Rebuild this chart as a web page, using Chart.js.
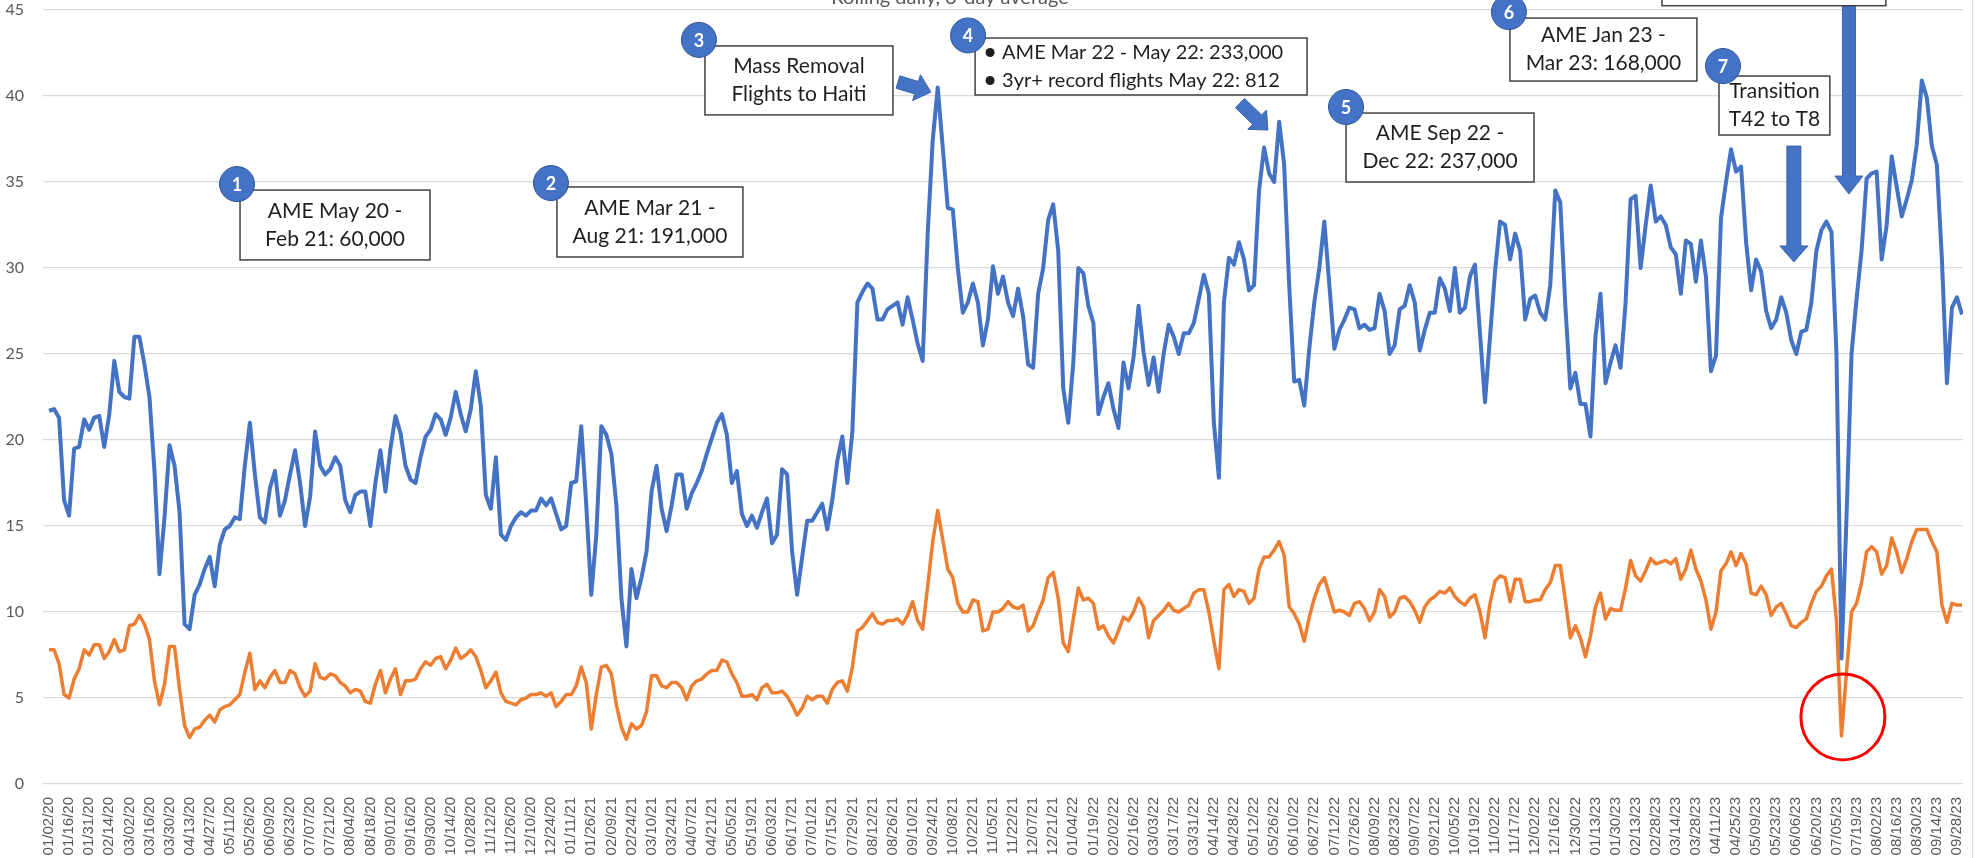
<!DOCTYPE html>
<html>
<head>
<meta charset="utf-8">
<style>
  body { margin: 0; background: #fff; }
  canvas { display: block; }
</style>
</head>
<body>
<canvas id="flights" width="1986" height="858"></canvas>

<script src="https://cdn.jsdelivr.net/npm/chart.js"></script>

<script>
  // one tick label every 14 data days, data at quarter-tick steps
  const tickLabels = [
    '01/02/20','01/16/20','01/31/20','02/14/20','03/02/20','03/16/20','03/30/20','04/13/20','04/27/20','05/11/20',
    '05/26/20','06/09/20','06/23/20','07/07/20','07/21/20','08/04/20','08/18/20','09/01/20','09/16/20','09/30/20',
    '10/14/20','10/28/20','11/12/20','11/26/20','12/10/20','12/24/20','01/11/21','01/26/21','02/09/21','02/24/21',
    '03/10/21','03/24/21','04/07/21','04/21/21','05/05/21','05/19/21','06/03/21','06/17/21','07/01/21','07/15/21',
    '07/29/21','08/12/21','08/26/21','09/10/21','09/24/21','10/08/21','10/22/21','11/05/21','11/22/21','12/07/21',
    '12/21/21','01/04/22','01/19/22','02/02/22','02/16/22','03/03/22','03/17/22','03/31/22','04/14/22','04/28/22',
    '05/12/22','05/26/22','06/10/22','06/27/22','07/12/22','07/26/22','08/09/22','08/23/22','09/07/22','09/21/22',
    '10/05/22','10/19/22','11/02/22','11/17/22','12/02/22','12/16/22','12/30/22','01/13/23','01/30/23','02/13/23',
    '02/28/23','03/14/23','03/28/23','04/11/23','04/25/23','05/09/23','05/23/23','06/06/23','06/20/23','07/05/23',
    '07/19/23','08/02/23','08/16/23','08/30/23','09/14/23','09/28/23'
  ];
  const step = 0.25;

  const blueValues = [
    21.7,21.8,21.3,16.5, 15.6,19.5,19.6,21.2, 20.6,21.3,21.4,19.6, 21.5,24.6,22.8,22.5, 22.4,26,26,24.4,
    22.5,18.2,12.2,15.5, 19.7,18.5,15.8,9.3, 9,11,11.6,12.5, 13.2,11.5,13.9,14.8, 15,15.5,15.4,18.5,
    21,18,15.5,15.2, 17.2,18.2,15.6,16.5, 18,19.4,17.5,15, 16.7,20.5,18.5,18, 18.3,19,18.5,16.5,
    15.8,16.8,17,17, 15,17.5,19.4,17, 19.5,21.4,20.4,18.5, 17.7,17.5,19,20.2, 20.6,21.5,21.2,20.3,
    21.3,22.8,21.5,20.5, 21.8,24,22,16.8, 16,19,14.5,14.2, 15,15.5,15.8,15.6, 15.9,15.9,16.6,16.2,
    16.6,15.7,14.8,15, 17.5,17.6,20.8,16.2, 11,14.5,20.8,20.3, 19.2,16.2,10.8,8, 12.5,10.8,12,13.5,
    17,18.5,16,14.7, 16.2,18,18,16, 16.9,17.5,18.2,19.2, 20.1,21,21.5,20.3, 17.5,18.2,15.7,15,
    15.6,14.9,15.8,16.6, 14,14.5,18.3,18, 13.5,11,13.2,15.3, 15.3,15.8,16.3,14.8, 16.5,18.8,20.2,17.5,
    20.5,28,28.6,29.1, 28.8,27,27,27.6, 27.8,28,26.7,28.3, 27,25.6,24.6,32, 37.4,40.5,37,33.5,
    33.4,30,27.4,28, 29.1,28,25.5,27, 30.1,28.5,29.5,28, 27.2,28.8,27.2,24.4, 24.2,28.5,30,32.8,
    33.7,31,23,21, 24.5,30,29.7,27.8, 26.8,21.5,22.5,23.3, 21.8,20.7,24.5,23, 24.8,27.8,25.1,23.2,
    24.8,22.8,25,26.7, 26,25,26.2,26.2, 26.8,28.2,29.6,28.5, 21,17.8,28,30.6, 30.2,31.5,30.5,28.7,
    29,34.5,37,35.5, 35,38.5,36,29, 23.4,23.5,22,25.3, 28,30,32.7,29, 25.3,26.4,27,27.7,
    27.6,26.5,26.7,26.4, 26.5,28.5,27.5,25, 25.5,27.6,27.8,29, 28,25.2,26.4,27.4, 27.4,29.4,28.8,27.5,
    30,27.4,27.7,29.5, 30.2,26.2,22.2,26, 29.8,32.7,32.5,30.5, 32,31,27,28.2, 28.4,27.4,27,29,
    34.5,33.8,27.8,23, 23.9,22.1,22.1,20.2, 26,28.5,23.3,24.5, 25.5,24.2,28,34, 34.2,30,32.5,34.8,
    32.7,33,32.5,31.2, 30.8,28.5,31.6,31.4, 29.2,31.6,29.5,24, 24.9,32.9,35,36.9, 35.6,35.9,31.5,28.7,
    30.5,29.8,27.5,26.5, 27,28.3,27.4,25.8, 25,26.3,26.4,28, 31,32.2,32.7,32.1, 25,7.3,15.5,25,
    28.2,31,35.2,35.5, 35.6,30.5,32.5,36.5, 34.7,33,34,35.1, 37.2,40.9,39.9,37.1, 36,30.5,23.3,27.7,
    28.3,27.3
  ];

  const orangeValues = [
    7.8,7.8,7.0,5.2, 5,6.1,6.7,7.8, 7.5,8.1,8.1,7.3, 7.7,8.4,7.7,7.8, 9.2,9.3,9.8,9.3,
    8.4,6,4.6,5.8, 8,8,5.5,3.4, 2.7,3.2,3.3,3.7, 4,3.6,4.3,4.5, 4.6,4.9,5.2,6.5,
    7.6,5.5,6,5.6, 6.2,6.6,5.9,5.9, 6.6,6.4,5.6,5.1, 5.4,7,6.2,6.1, 6.4,6.3,5.9,5.7,
    5.3,5.5,5.4,4.8, 4.7,5.8,6.6,5.3, 6.1,6.7,5.2,6, 6,6.1,6.7,7.1, 6.9,7.3,7.4,6.7,
    7.2,7.9,7.3,7.5, 7.8,7.4,6.6,5.6, 6,6.5,5.3,4.8, 4.7,4.6,4.9,5, 5.2,5.2,5.3,5.1,
    5.3,4.5,4.8,5.2, 5.2,5.7,6.8,5.9, 3.2,5.2,6.8,6.9, 6.4,4.6,3.3,2.6, 3.5,3.2,3.4,4.2,
    6.3,6.3,5.7,5.6, 5.9,5.9,5.6,4.9, 5.7,6,6.1,6.4, 6.6,6.6,7.2,7.1, 6.4,5.9,5.1,5.1,
    5.2,4.9,5.6,5.8, 5.3,5.3,5.4,5.1, 4.6,4,4.4,5.1, 4.9,5.1,5.1,4.7, 5.5,5.9,6,5.4,
    6.8,8.9,9.1,9.5, 9.9,9.4,9.3,9.5, 9.5,9.6,9.3,9.8, 10.6,9.5,9,11.5, 14.1,15.9,14.2,12.5,
    12,10.5,10,10, 10.7,10.6,8.9,9, 10,10,10.2,10.6, 10.3,10.2,10.4,8.9, 9.2,10,10.7,12,
    12.3,10.8,8.2,7.7, 9.6,11.4,10.7,10.8, 10.5,9,9.2,8.6, 8.2,8.9,9.7,9.5, 10,10.8,10.3,8.5,
    9.5,9.8,10.1,10.5, 10.1,10,10.2,10.4, 11.1,11.3,11.3,10, 8.3,6.7,11.3,11.6, 10.9,11.3,11.2,10.5,
    10.8,12.5,13.2,13.2, 13.6,14.1,13.3,10.3, 9.9,9.3,8.3,9.7, 10.8,11.6,12,11, 10,10.1,10,9.8,
    10.5,10.6,10.2,9.5, 10,11.3,10.9,9.7, 10,10.8,10.9,10.6, 10.1,9.4,10.3,10.7, 10.9,11.2,11.1,11.4,
    10.9,10.6,10.4,10.8, 11,10,8.5,10.5, 11.8,12.1,12,10.6, 11.9,11.9,10.6,10.6, 10.7,10.7,11.3,11.7,
    12.7,12.7,10.7,8.5, 9.2,8.5,7.4,8.6, 10.3,11.1,9.6,10.2, 10.1,10.1,11.4,13, 12.1,11.8,12.4,13.1,
    12.8,12.9,13,12.8, 13.1,11.9,12.5,13.6, 12.5,11.8,10.7,9, 10,12.4,12.8,13.5, 12.7,13.4,12.8,11.1,
    11,11.5,11,9.8, 10.3,10.5,9.9,9.2, 9.1,9.4,9.6,10.5, 11.2,11.5,12.1,12.5, 9.5,2.8,6.5,10,
    10.5,11.7,13.5,13.8, 13.5,12.2,12.7,14.3, 13.5,12.3,13.1,14.1, 14.8,14.8,14.8,14.1, 13.5,10.4,9.4,10.5,
    10.4,10.4
  ];

  // call-out boxes, in axis units (x = tick index, y = value)
  const callouts = [
    { n: '1', x1: 9.51, x2: 18.97, y1: 34.53, y2: 30.47, cx: 9.36, cy: 34.88, lines: ['AME May 20 -', 'Feb 21: 60,000'] },
    { n: '2', x1: 25.29, x2: 34.55, y1: 34.71, y2: 30.64, cx: 24.99, cy: 34.94, lines: ['AME Mar 21 -', 'Aug 21: 191,000'] },
    { n: '3', x1: 32.66, x2: 42.02, y1: 42.91, y2: 38.9, cx: 32.36, cy: 43.26, lines: ['Mass Removal', 'Flights to Haiti'] },
    { n: '4', x1: 46.11, x2: 62.64, y1: 43.37, y2: 40.06, cx: 45.76, cy: 43.52, bullets: true,
      lines: ['AME Mar 22 - May 22: 233,000', '3yr+ record flights May 22: 812'] },
    { n: '5', x1: 64.58, x2: 73.94, y1: 39.01, y2: 35.0, cx: 64.58, cy: 39.36, lines: ['AME Sep 22 -', 'Dec 22: 237,000'] },
    { n: '6', x1: 72.74, x2: 82.05, y1: 44.53, y2: 40.87, cx: 72.69, cy: 44.88, lines: ['AME Jan 23 -', 'Mar 23: 168,000'] },
    { n: '7', x1: 83.15, x2: 88.67, y1: 41.16, y2: 37.73, cx: 83.35, cy: 41.74, lines: ['Transition', 'T42 to T8'] },
    { n: '', x1: 80.31, x2: 91.46, y1: 48, y2: 45.25, lines: [] }
  ];
  const arrows = [
    { x0: 42.27, y0: 40.81, x1: 43.91, y1: 40.23, shaft: 13, head: 27, headLen: 15 },
    { x0: 59.30, y0: 39.59, x1: 60.69, y1: 38.02, shaft: 13, head: 27, headLen: 15 },
    { x0: 86.88, y0: 37.09, x1: 86.88, y1: 30.35, shaft: 14, head: 28, headLen: 16 },
    { x0: 89.62, y0: 45.6, x1: 89.62, y1: 34.30, shaft: 13, head: 28, headLen: 18 }
  ];
  const dipMark = { x: 89.32, y: 3.9, rx: 42, ry: 43 };

  const BLUE = '#4472C4';
  const ORANGE = '#ED7D31';

  function blockArrow(ctx, x0, y0, x1, y1, shaft, head, headLen) {
    const dx = x1 - x0, dy = y1 - y0, len = Math.hypot(dx, dy);
    const ux = dx / len, uy = dy / len, nx = -uy, ny = ux;
    const bx = x1 - ux * headLen, by = y1 - uy * headLen;
    const s = shaft / 2, h = head / 2;
    ctx.beginPath();
    ctx.moveTo(x0 + nx * s, y0 + ny * s);
    ctx.lineTo(bx + nx * s, by + ny * s);
    ctx.lineTo(bx + nx * h, by + ny * h);
    ctx.lineTo(x1, y1);
    ctx.lineTo(bx - nx * h, by - ny * h);
    ctx.lineTo(bx - nx * s, by - ny * s);
    ctx.lineTo(x0 - nx * s, y0 - ny * s);
    ctx.closePath();
    ctx.fillStyle = BLUE;
    ctx.fill();
    ctx.strokeStyle = '#3A62AD';
    ctx.lineWidth = 1;
    ctx.stroke();
  }

  const annotations = {
    id: 'annotations',
    afterDraw(chart) {
      const { ctx, scales: { x, y } } = chart;
      const X = v => x.getPixelForValue(v);
      const Y = v => y.getPixelForValue(v);
      ctx.save();

      // chart title, mostly cut off by the top edge
      ctx.fillStyle = '#595959';
      ctx.font = '20px Lato';
      ctx.textAlign = 'center';
      ctx.textBaseline = 'alphabetic';
      ctx.fillText('Rolling daily, 3-day average', 950, 4);

      // right edge of the chart frame
      ctx.strokeStyle = '#d9d9d9';
      ctx.lineWidth = 1;
      ctx.beginPath();
      ctx.moveTo(1972.5, 0);
      ctx.lineTo(1972.5, 858);
      ctx.stroke();

      arrows.forEach(a => blockArrow(ctx, X(a.x0), Y(a.y0), X(a.x1), Y(a.y1), a.shaft, a.head, a.headLen));

      callouts.forEach(c => {
        const l = X(c.x1), r = X(c.x2), t = Y(c.y1), b = Y(c.y2);
        ctx.fillStyle = '#fff';
        ctx.fillRect(l, t, r - l, b - t);
        ctx.strokeStyle = '#404040';
        ctx.lineWidth = 1.5;
        ctx.strokeRect(l, t, r - l, b - t);

        ctx.fillStyle = '#1f1f1f';
        ctx.font = c.bullets ? '20px Lato' : '21px Lato';
        ctx.textBaseline = 'middle';
        const mid = (t + b) / 2, lh = 28;
        c.lines.forEach((txt, i) => {
          const ty = mid + (i - (c.lines.length - 1) / 2) * lh;
          if (c.bullets) {
            ctx.textAlign = 'left';
            ctx.beginPath();
            ctx.arc(l + 15, ty, 4.5, 0, Math.PI * 2);
            ctx.fill();
            ctx.fillText(txt, l + 27, ty);
          } else {
            ctx.textAlign = 'center';
            ctx.fillText(txt, (l + r) / 2, ty);
          }
        });

        if (c.n) {
          const cx = X(c.cx), cy = Y(c.cy);
          ctx.beginPath();
          ctx.arc(cx, cy, 17.5, 0, Math.PI * 2);
          ctx.fillStyle = BLUE;
          ctx.fill();
          ctx.strokeStyle = '#2F5597';
          ctx.lineWidth = 1;
          ctx.stroke();
          ctx.fillStyle = '#fff';
          ctx.font = 'bold 18px Lato';
          ctx.textAlign = 'center';
          ctx.fillText(c.n, cx, cy + 1);
        }
      });

      // red ring round the July 2023 dip
      ctx.strokeStyle = '#FF0000';
      ctx.lineWidth = 3;
      ctx.beginPath();
      ctx.ellipse(X(dipMark.x), Y(dipMark.y), dipMark.rx, dipMark.ry, 0, 0, Math.PI * 2);
      ctx.stroke();

      ctx.restore();
    }
  };

  function toPoints(values) {
    return values.map((v, i) => ({ x: i * step, y: v }));
  }

  new Chart(document.getElementById('flights'), {
    type: 'line',
    data: {
      datasets: [
        {
          label: 'Blue series',
          data: toPoints(blueValues),
          borderColor: BLUE,
          borderWidth: 4,
          pointRadius: 0,
          tension: 0,
          borderJoinStyle: 'round'
        },
        {
          label: 'Orange series',
          data: toPoints(orangeValues),
          borderColor: ORANGE,
          borderWidth: 3.5,
          pointRadius: 0,
          tension: 0,
          borderJoinStyle: 'round'
        }
      ]
    },
    options: {
      responsive: false,
      animation: false,
      layout: { padding: { top: 10, right: 23, bottom: 0, left: 0 } },
      plugins: {
        legend: { display: false },
        tooltip: { enabled: false }
      },
      scales: {
        x: {
          type: 'linear',
          min: -0.3,
          max: 95.3,
          grid: { display: false },
          border: { display: false },
          afterFit: s => { s.height = 74; },
          ticks: {
            stepSize: 1,
            includeBounds: false,
            autoSkip: false,
            minRotation: 90,
            maxRotation: 90,
            padding: 5,
            color: '#595959',
            font: { family: 'Liberation Sans', size: 15 },
            callback: v => Number.isInteger(v) ? (tickLabels[v] || '') : ''
          }
        },
        y: {
          min: 0,
          max: 45,
          grid: { color: '#d9d9d9', lineWidth: 1.3, drawTicks: false },
          border: { display: false },
          // keep the wide label gap from pushing the plot top down
          afterFit: s => { s.width = 43; s.paddingTop = 0; s.paddingBottom = 0; },
          ticks: {
            stepSize: 5,
            padding: 19,
            color: '#595959',
            font: { family: 'Lato', size: 16 }
          }
        }
      }
    },
    plugins: [annotations]
  });
</script>
</body>
</html>
